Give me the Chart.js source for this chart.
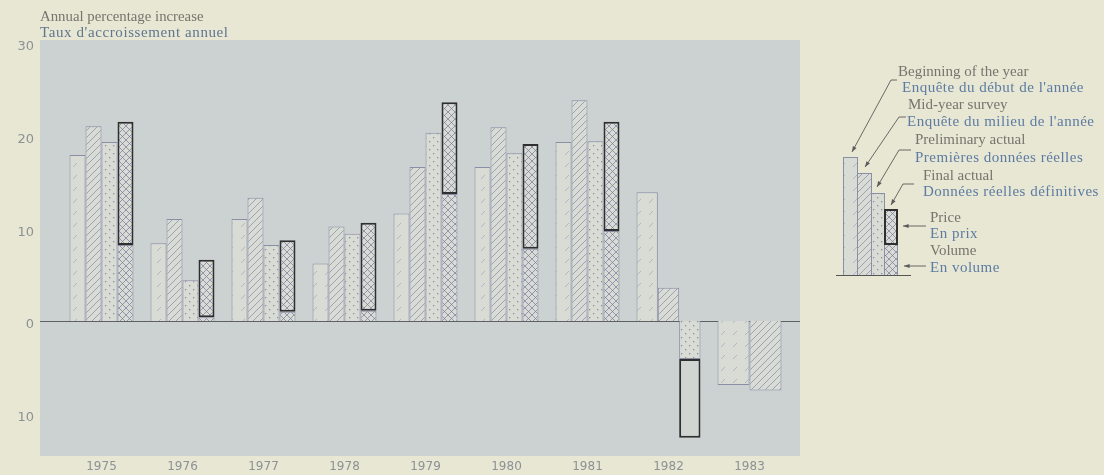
<!DOCTYPE html>
<html>
<head>
<meta charset="utf-8">
<script src="https://cdn.jsdelivr.net/npm/chart.js@4.4.0/dist/chart.umd.min.js"></script>
<style>
  html, body { margin: 0; padding: 0; background: #e7e7d3; }
  #wrap { position: relative; width: 1104px; height: 475px; overflow: hidden; }
  #chart { position: absolute; left: 0; top: 0; }
  .t { position: absolute; white-space: nowrap; font-family: "Liberation Serif", "DejaVu Serif", serif; font-size: 15px; line-height: 16px; }
  .en { color: #75756e; }
  .fr { color: #5d7ba3; letter-spacing: 0.5px; }
</style>
</head>
<body>
<div id="wrap">
  <canvas id="chart" width="1104" height="475"></canvas>

  <div class="t en" style="left:40px;top:8px;font-size:14.8px">Annual percentage increase</div>
  <div class="t fr" style="left:40px;top:24px;font-size:15px;letter-spacing:0.6px;color:#607590">Taux d'accroissement annuel</div>

  <div class="t en" style="left:898px;top:63px">Beginning of the year</div>
  <div class="t fr" style="left:902px;top:79px">Enquête du début de l'année</div>
  <div class="t en" style="left:908px;top:96px">Mid-year survey</div>
  <div class="t fr" style="left:907px;top:113px">Enquête du milieu de l'année</div>
  <div class="t en" style="left:915px;top:131px">Preliminary actual</div>
  <div class="t fr" style="left:915px;top:149px">Premières données réelles</div>
  <div class="t en" style="left:923px;top:167px">Final actual</div>
  <div class="t fr" style="left:923px;top:183px">Données réelles définitives</div>
  <div class="t en" style="left:930px;top:209px">Price</div>
  <div class="t fr" style="left:930px;top:225px">En prix</div>
  <div class="t en" style="left:930px;top:242px">Volume</div>
  <div class="t fr" style="left:930px;top:259px">En volume</div>
</div>

<script>
// Survey data, annual % increase
const years = ['1975', '1976', '1977', '1978', '1979', '1980', '1981', '1982', '1983'];
const beginningOfYear = [17.9, 8.4, 11.0, 6.2, 11.6, 16.6, 19.3, 13.9, -6.9];
const midYearSurvey = [21.0, 11.0, 13.3, 10.2, 16.6, 20.9, 23.8, 3.6, -7.5];
const preliminaryActual = [19.3, 4.4, 8.2, 9.4, 20.3, 18.1, 19.4, -4.1, null];
const preliminaryVolume = [null, null, null, null, null, null, null, -12.6, null];
const finalActual = [21.5, 6.6, 8.7, 10.6, 23.6, 19.1, 21.5, null, null];
const finalVolume = [8.2, 0.4, 1.0, 1.1, 13.7, 7.8, 9.7, null, null];

const yTicks = [30, 20, 10, 0, -10];

const canvas = document.getElementById('chart');
const ctx = canvas.getContext('2d');

const barFill = '#d8dcd4';
const outline = '#8a8fa6';

function makeTile(size, draw) {
  const c = document.createElement('canvas');
  c.width = size;
  c.height = size;
  const g = c.getContext('2d');
  g.fillStyle = barFill;
  g.fillRect(0, 0, size, size);
  draw(g, size);
  return ctx.createPattern(c, 'repeat');
}

function slash(g, s) {
  g.beginPath();
  g.moveTo(0, s); g.lineTo(s, 0);
  g.moveTo(-1, 1); g.lineTo(1, -1);
  g.moveTo(s - 1, s + 1); g.lineTo(s + 1, s - 1);
  g.stroke();
}
function backslash(g, s) {
  g.beginPath();
  g.moveTo(0, 0); g.lineTo(s, s);
  g.moveTo(-1, s - 1); g.lineTo(1, s + 1);
  g.moveTo(s - 1, -1); g.lineTo(s + 1, 1);
  g.stroke();
}

// beginning of year: faint broken diagonals
const patBegin = makeTile(12, (g, s) => {
  g.strokeStyle = 'rgba(130,136,168,0.45)';
  g.lineWidth = 1;
  g.beginPath();
  g.moveTo(1, 11); g.lineTo(5, 7);
  g.stroke();
});
// mid-year: diagonal hatch
const patMid = makeTile(7, (g, s) => {
  g.strokeStyle = 'rgba(125,131,165,0.65)';
  g.lineWidth = 1;
  slash(g, s);
});
// preliminary: dots
const patPrelim = makeTile(8, (g, s) => {
  g.fillStyle = 'rgba(120,126,140,0.8)';
  g.fillRect(1, 1, 1.3, 1.3);
  g.fillRect(5, 5, 1.3, 1.3);
});
// final: cross hatch
const patFinal = makeTile(7, (g, s) => {
  g.strokeStyle = 'rgba(115,120,155,0.7)';
  g.lineWidth = 1;
  slash(g, s);
  backslash(g, s);
});

function arrowLine(c, pts) {
  c.beginPath();
  c.moveTo(pts[0][0], pts[0][1]);
  for (let i = 1; i < pts.length; i++) c.lineTo(pts[i][0], pts[i][1]);
  c.stroke();
  const [x1, y1] = pts[pts.length - 2];
  const [x2, y2] = pts[pts.length - 1];
  const a = Math.atan2(y2 - y1, x2 - x1);
  c.beginPath();
  c.moveTo(x2, y2);
  c.lineTo(x2 - 6 * Math.cos(a - 0.35), y2 - 6 * Math.sin(a - 0.35));
  c.lineTo(x2 - 6 * Math.cos(a + 0.35), y2 - 6 * Math.sin(a + 0.35));
  c.closePath();
  c.fill();
}

const paperPlot = {
  id: 'paperPlot',
  beforeDraw(chart) {
    const { ctx: c, chartArea: a } = chart;
    c.save();
    c.fillStyle = '#ccd2d2';
    c.fillRect(a.left - 21, a.top, a.right - a.left + 31, a.bottom - a.top);
    c.restore();
  },
  beforeDatasetsDraw(chart) {
    const { ctx: c, chartArea: a, scales: { y } } = chart;
    const y0 = Math.round(y.getPixelForValue(0)) + 0.5;
    c.save();
    c.strokeStyle = '#5e6062';
    c.lineWidth = 1.2;
    c.beginPath();
    c.moveTo(a.left - 21, y0);
    c.lineTo(a.right + 10, y0);
    c.stroke();
    c.restore();
  },
  afterDraw(chart) {
    // hand-drawn key on the right
    const c = chart.ctx;
    c.save();
    const key = [
      { x: 843, w: 14, top: 157, fill: patBegin },
      { x: 857, w: 14, top: 173, fill: patMid },
      { x: 871, w: 13, top: 193, fill: patPrelim },
      { x: 884, w: 13, top: 209, fill: patFinal }
    ];
    const base = 275;
    key.forEach(k => {
      c.fillStyle = k.fill;
      c.fillRect(k.x, k.top, k.w, base - k.top);
      c.strokeStyle = outline;
      c.lineWidth = 1;
      c.strokeRect(k.x + 0.5, k.top + 0.5, k.w, base - k.top);
    });
    c.strokeStyle = '#2f2f2f';
    c.lineWidth = 2;
    c.strokeRect(885, 210, 12, 34);
    c.strokeStyle = '#555';
    c.lineWidth = 1;
    c.beginPath();
    c.moveTo(836, base + 0.5);
    c.lineTo(911, base + 0.5);
    c.stroke();

    c.strokeStyle = '#5a5a5a';
    c.fillStyle = '#5a5a5a';
    c.lineWidth = 0.9;
    arrowLine(c, [[897, 80], [891, 80], [852, 152]]);
    arrowLine(c, [[906, 117], [899, 117], [865, 167]]);
    arrowLine(c, [[911, 150], [899, 150], [877, 187]]);
    arrowLine(c, [[914, 184], [903, 184], [891, 205]]);
    arrowLine(c, [[926, 226], [903, 226]]);
    arrowLine(c, [[926, 266], [904, 266]]);
    c.restore();
  }
};

function floating(lo, hi) {
  return lo.map((v, i) => (v === null || hi[i] === null) ? null : [v, hi[i]]);
}

const tickFont = { family: '"DejaVu Sans", sans-serif', size: 12 };

new Chart(ctx, {
  type: 'bar',
  data: {
    labels: years,
    datasets: [
      {
        label: 'Beginning of the year',
        data: beginningOfYear,
        stack: 'b',
        backgroundColor: patBegin,
        borderColor: outline,
        borderWidth: 1
      },
      {
        label: 'Mid-year survey',
        data: midYearSurvey,
        stack: 'm',
        backgroundColor: patMid,
        borderColor: outline,
        borderWidth: 1
      },
      {
        label: 'Preliminary actual - price',
        data: floating(preliminaryActual.map((v, i) => preliminaryVolume[i] === null ? null : v), preliminaryVolume),
        stack: 'p',
        backgroundColor: '#d0d5d2',
        borderColor: '#2f2f2f',
        borderWidth: 2,
        borderSkipped: false
      },
      {
        label: 'Preliminary actual',
        data: preliminaryActual,
        stack: 'p',
        backgroundColor: patPrelim,
        borderColor: outline,
        borderWidth: 1
      },
      {
        label: 'Final actual - price',
        data: floating(finalVolume, finalActual),
        stack: 'f',
        backgroundColor: patFinal,
        borderColor: '#2f2f2f',
        borderWidth: 2,
        borderSkipped: false
      },
      {
        label: 'Final actual - volume',
        data: finalVolume,
        stack: 'f',
        backgroundColor: patFinal,
        borderColor: outline,
        borderWidth: 1
      }
    ]
  },
  options: {
    responsive: false,
    animation: false,
    devicePixelRatio: 1,
    datasets: {
      bar: { skipNull: true, categoryPercentage: 0.79, barPercentage: 1.0 }
    },
    layout: { padding: { top: 40, right: 314, bottom: 0, left: 0 } },
    plugins: {
      legend: { display: false },
      tooltip: { enabled: false },
      title: { display: false }
    },
    scales: {
      x: {
        grid: { display: false, drawTicks: false },
        border: { display: false },
        ticks: {
          color: '#8c9295',
          font: tickFont,
          padding: 4,
          maxRotation: 0,
          autoSkip: false
        },
        afterFit: (scale) => {
          scale.height = 19;
          scale.paddingLeft = 0;
          scale.paddingRight = 0;
        }
      },
      y: {
        stacked: false,
        min: -14.56,
        max: 30.31,
        grid: { display: false, drawTicks: false },
        border: { display: false },
        afterBuildTicks: (scale) => { scale.ticks = yTicks.map(v => ({ value: v })); },
        ticks: {
          color: '#8c9295',
          font: { family: '"DejaVu Sans", sans-serif', size: 13 },
          padding: 27,
          labelOffset: 4,
          callback: (v) => String(Math.abs(v))
        },
        afterFit: (scale) => {
          scale.width = 61;
          scale.paddingTop = 0;
          scale.paddingBottom = 0;
        }
      }
    }
  },
  plugins: [paperPlot]
});
</script>
</body>
</html>
